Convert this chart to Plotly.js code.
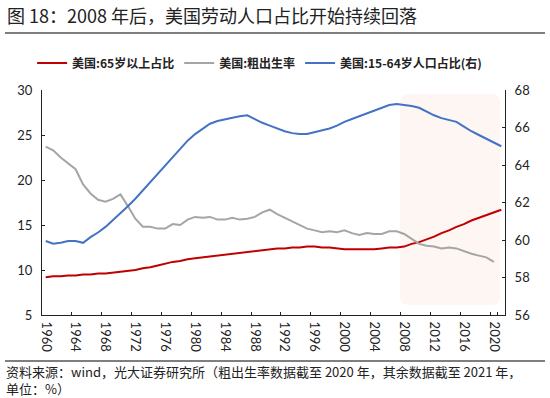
<!DOCTYPE html>
<html><head><meta charset="utf-8">
<script src="https://cdn.plot.ly/plotly-3.0.1.min.js"></script>
<style>html,body{margin:0;padding:0;background:#fff}</style>
</head><body>
<div id="chart" style="width:550px;height:398px"></div>
<script>
const years = [1960,1961,1962,1963,1964,1965,1966,1967,1968,1969,1970,1971,1972,1973,1974,1975,1976,1977,1978,1979,1980,1981,1982,1983,1984,1985,1986,1987,1988,1989,1990,1991,1992,1993,1994,1995,1996,1997,1998,1999,2000,2001,2002,2003,2004,2005,2006,2007,2008,2009,2010,2011,2012,2013,2014,2015,2016,2017,2018,2019,2020,2021];
const age65 = [9.2,9.3,9.3,9.4,9.4,9.5,9.5,9.6,9.6,9.7, 9.8,9.9,10.0,10.2,10.3,10.5,10.7,10.9,11.0,11.2, 11.3,11.4,11.5,11.6,11.7,11.8,11.9,12.0,12.1,12.2, 12.3,12.4,12.4,12.5,12.5,12.6,12.6,12.5,12.5,12.4, 12.3,12.3,12.3,12.3,12.3,12.4,12.5,12.5,12.6,12.9, 13.1,13.4,13.7,14.1,14.4,14.8,15.1,15.5,15.8,16.1, 16.4,16.7];
const birthRate = [23.7,23.3,22.5,21.8,21.2,19.5,18.5,17.8,17.6,17.9, 18.4,17.1,15.7,14.8,14.8,14.6,14.6,15.1,15.0,15.6, 15.9,15.8,15.9,15.6,15.6,15.8,15.6,15.7,15.9,16.4, 16.7,16.2,15.8,15.4,15.0,14.6,14.4,14.2,14.3,14.2, 14.4,14.1,13.9,14.1,14.0,14.0,14.3,14.3,14.0,13.4, 12.9,12.7,12.6,12.4,12.5,12.4,12.1,11.8,11.6,11.4, 10.9,null];
const age15to64 = [59.95,59.8,59.85,59.95,59.95,59.85,60.15,60.4,60.7,61.05, 61.4,61.8,62.2,62.65,63.1,63.55,64.0,64.45,64.9,65.3, 65.65,65.95,66.2,66.35,66.45,66.52,66.6,66.65,66.45,66.25, 66.1,65.95,65.8,65.7,65.65,65.65,65.75,65.85,65.95,66.1, 66.3,66.45,66.6,66.75,66.9,67.05,67.2,67.25,67.2,67.15, 67.05,66.85,66.65,66.5,66.4,66.3,66.05,65.8,65.6,65.4, 65.2,65.0];
const seriesNames = ['美国:65岁以上占比','美国:粗出生率','美国:15-64岁人口占比(右)'];
const titleText = '图 18：2008 年后，美国劳动人口占比开始持续回落';
const footerText = '资料来源：wind，光大证券研究所（粗出生率数据截至 2020 年，其余数据截至 2021 年，<br>单位：%）';

const cats = years.map(String);
const tickCats = cats.filter((c,i)=>i%4===0);

// plot area in pixels
const L=42, R=505, T=90, B=315;
const W=R-L, H=B-T;
const px = p => (p-L)/W;
const py = p => (B-p)/H;
function roundRect(x0,y0,x1,y1,r){
  const rx=r/W, ry=r/H;
  const X0=px(x0),X1=px(x1),Y0=py(y0),Y1=py(y1);
  return `M${X0+rx},${Y0} L${X1-rx},${Y0} Q${X1},${Y0} ${X1},${Y0-ry} L${X1},${Y1+ry} Q${X1},${Y1} ${X1-rx},${Y1} L${X0+rx},${Y1} Q${X0},${Y1} ${X0},${Y1+ry} L${X0},${Y0-ry} Q${X0},${Y0} ${X0+rx},${Y0} Z`;
}

const cjk = '"Noto Sans CJK SC", "Noto Sans", sans-serif';
const num = 'Lato, "Noto Sans", sans-serif';

const traces = [
  {x:cats, y:age65, name:seriesNames[0], type:'scatter', mode:'lines', line:{color:'#C00000', width:2}},
  {x:cats, y:birthRate, name:seriesNames[1], type:'scatter', mode:'lines', line:{color:'#A5A5A5', width:2}},
  {x:cats, y:age15to64, name:seriesNames[2], type:'scatter', mode:'lines', yaxis:'y2', line:{color:'#4472C4', width:2}}
];

const layout = {
  width:550, height:398,
  margin:{l:L, r:550-R, t:T, b:398-B, pad:0},
  paper_bgcolor:'#fff', plot_bgcolor:'rgba(0,0,0,0)',
  showlegend:true,
  legend:{orientation:'h', x:0.47, xanchor:'center', y:py(63), yanchor:'middle',
    font:{family:cjk, size:12, color:'#222', weight:'bold'}, bgcolor:'rgba(0,0,0,0)', itemwidth:30, tracegroupgap:0},
  title:{text:titleText, x:7/550, xanchor:'left', xref:'container', y:1-17/398, yanchor:'middle', yref:'container',
    font:{family:cjk, size:18, color:'#222'}},
  xaxis:{type:'category', range:[-0.5, years.length-0.5], tickmode:'array', tickvals:tickCats, ticktext:tickCats,
    tickson:'boundaries', ticks:'inside', ticklen:3, tickcolor:'#222', tickangle:90,
    showline:true, linecolor:'#222', linewidth:1, showgrid:false, zeroline:false,
    tickfont:{family:num, size:13, color:'#222'}, ticklabelstandoff:3, fixedrange:true},
  yaxis:{range:[5,30], dtick:5, tick0:0, ticks:'inside', ticklen:3, tickcolor:'#222',
    showline:true, linecolor:'#222', linewidth:1, showgrid:false, zeroline:false,
    tickfont:{family:num, size:13, color:'#222'}, ticklabelstandoff:6, fixedrange:true},
  yaxis2:{range:[56,68], dtick:2, tick0:0, overlaying:'y', side:'right', ticks:'inside', ticklen:3, tickcolor:'#222',
    showline:true, linecolor:'#222', linewidth:1, showgrid:false, zeroline:false,
    tickfont:{family:num, size:13, color:'#222'}, ticklabelstandoff:6, fixedrange:true},
  shapes:[
    {type:'path', xref:'paper', yref:'paper', path:roundRect(400,94,500,305,9), fillcolor:'#FDF6F3', line:{width:0}, layer:'below'},
    {type:'line', xref:'paper', yref:'paper', x0:px(5), x1:px(545), y0:py(33), y1:py(33), line:{color:'#7F7F7F', width:2}},
    {type:'line', xref:'paper', yref:'paper', x0:px(5), x1:px(545), y0:py(361), y1:py(361), line:{color:'#555', width:1.5}}
  ],
  annotations:[
    {text:footerText, xref:'paper', yref:'paper', x:px(5), y:py(398.5), xanchor:'left', yanchor:'bottom', align:'left',
      showarrow:false, borderpad:0, font:{family:cjk, size:13, color:'#222'}}
  ],
  hovermode:false
};
Plotly.newPlot('chart', traces, layout, {displayModeBar:false, staticPlot:true});
</script>
</body></html>
